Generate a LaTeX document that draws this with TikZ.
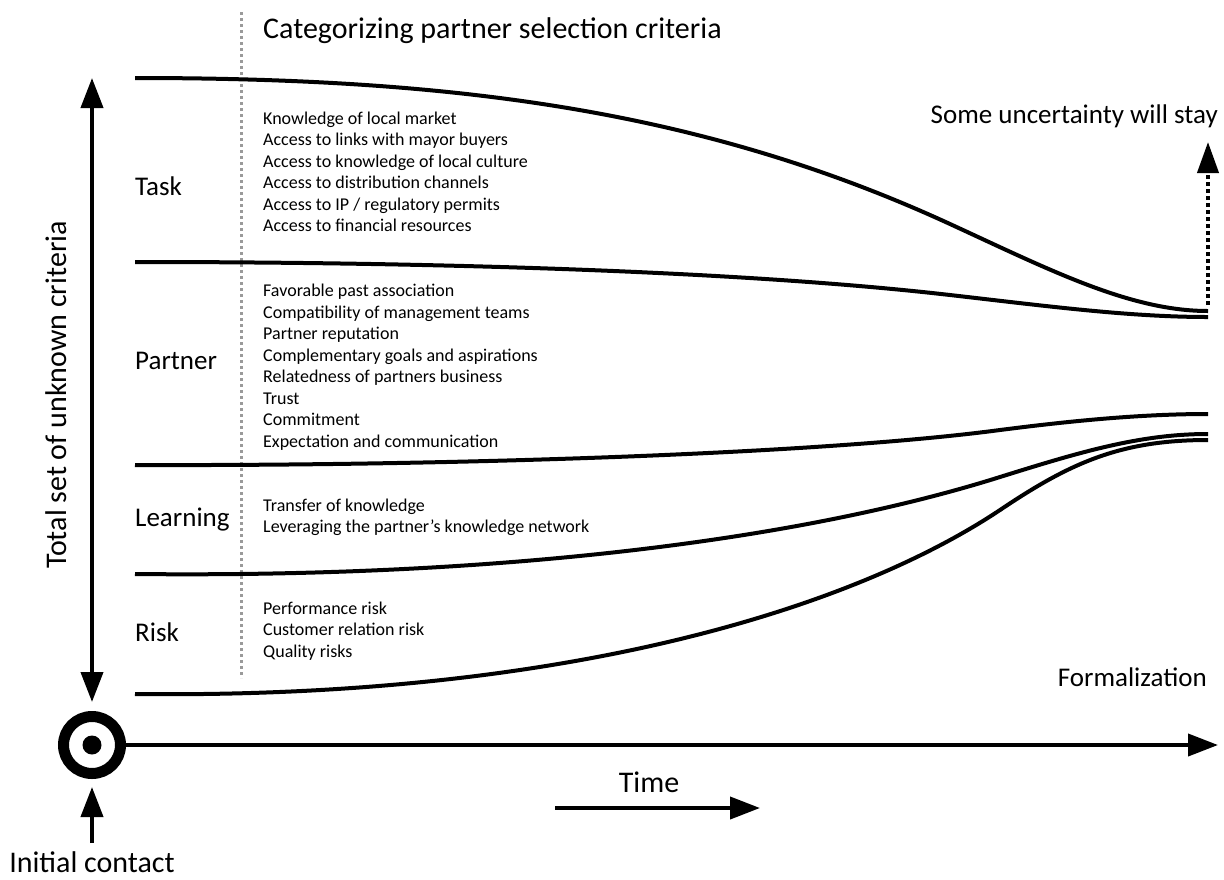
\documentclass[tikz,border=0pt]{standalone}
\usepackage{fontspec}
\setsansfont{Carlito}
\usetikzlibrary{positioning,arrows.meta}
\definecolor{guide}{HTML}{9A9A9A}

\begin{document}
\begin{tikzpicture}[
    x=1pt, y=-1pt,
    font=\sffamily,
    curve/.style={line width=4pt},
    axis/.style={line width=4pt, -{Triangle[length=30pt,width=22pt]}},
    cat/.style={anchor=base west, inner sep=0pt,
                font=\sffamily\fontsize{27}{32}\selectfont},
    item/.style={anchor=base west, inner sep=0pt,
                 font=\sffamily\fontsize{18}{21.5}\selectfont},
    big/.style={inner sep=0pt, font=\sffamily\fontsize{27}{32}\selectfont},
    huge/.style={inner sep=0pt, font=\sffamily\fontsize{30}{36}\selectfont}
  ]
  \useasboundingbox (0,0) rectangle (1224,879);

  % dotted guide between the category names and their criteria
  \draw[guide, line width=3pt, dash pattern=on 3pt off 3pt] (241,12) -- (241,678);
  \node[huge, anchor=base west] (title) at (263,38) {Categorizing partner selection criteria};

  % band borders, all meeting near formalization
  \draw[curve] (135,78) .. controls (450,78) and (700,109) .. (950,224)
    .. controls (1050,270) and (1130,311) .. (1208,311);
  \draw[curve] (135,262) .. controls (450,262) and (750,272) .. (950,295)
    .. controls (1050,306.5) and (1130,317) .. (1208,317);
  \draw[curve] (135,465) .. controls (450,466) and (820,454) .. (1000,430)
    .. controls (1070,421) and (1140,414) .. (1208,414);
  \draw[curve] (135,574) .. controls (500,578) and (800,540) .. (1000,477)
    .. controls (1080,452) and (1140,434) .. (1208,434);
  \draw[curve] (135,694) .. controls (560,699) and (850,610) .. (1000,510)
    .. controls (1070,463) and (1120,440) .. (1208,440);

  % categories
  \node[cat] (task)     at (135,195) {Task};
  \node[cat] (partner)  at (135,369) {Partner};
  \node[cat] (learning) at (135,526) {Learning};
  \node[cat] (risk)     at (135,641) {Risk};

  % criteria, one line each
  \foreach \txt [count=\i from 0] in {Knowledge of local market,
      Access to links with mayor buyers, Access to knowledge of local culture,
      Access to distribution channels, Access to IP / regulatory permits,
      Access to financial resources}
    \node[item] (task-\i) at (263,124+21.5*\i) {\txt};
  \foreach \txt [count=\i from 0] in {Favorable past association,
      Compatibility of management teams, Partner reputation,
      Complementary goals and aspirations, Relatedness of partners business,
      Trust, Commitment, Expectation and communication}
    \node[item] (partner-\i) at (263,296.5+21.5*\i) {\txt};
  \foreach \txt [count=\i from 0] in {Transfer of knowledge,
      Leveraging the partner’s knowledge network}
    \node[item] (learning-\i) at (263,511+21.5*\i) {\txt};
  \foreach \txt [count=\i from 0] in {Performance risk,
      Customer relation risk, Quality risks}
    \node[item] (risk-\i) at (263,614+21.5*\i) {\txt};

  % axes
  \node[circle, draw, line width=11pt, minimum size=57pt, inner sep=0pt] (origin) at (92,745) {};
  \fill (origin) circle (9.5);
  \coordinate (ytop) at (92,78);
  \coordinate (xend) at (1218,745);
  \coordinate (ic) at (92,843);
  \draw[axis, {Triangle[length=30pt,width=22pt]}-{Triangle[length=30pt,width=22pt]}, shorten >=9pt]
    (ytop) -- (origin.north);
  \draw[axis] (origin.east) -- (xend);
  \draw[axis, shorten >=8pt] (ic) -- (origin.south);
  \node[huge, rotate=90, anchor=base] (total) at (66,395) {Total set of unknown criteria};
  \node[huge, anchor=base] (contact) at (92,872) {Initial contact};

  % time
  \coordinate (t0) at (555,808);
  \coordinate (t1) at (760,808);
  \draw[axis] (t0) -- (t1);
  \node[huge, anchor=base] (time) at (649,792) {Time};

  % right side
  \node[big, anchor=base east] (formal) at (1207,686) {Formalization};
  \node[big, anchor=base east] (stay) at (1218,123) {Some uncertainty will stay};
  \coordinate (keep) at (1208,305);
  \coordinate (keeptop) at (1208,142);
  \draw[line width=4pt, dash pattern=on 4pt off 3pt, -{Triangle[length=31pt,width=21pt]}]
    (keep) -- (keeptop);
\end{tikzpicture}
\end{document}
